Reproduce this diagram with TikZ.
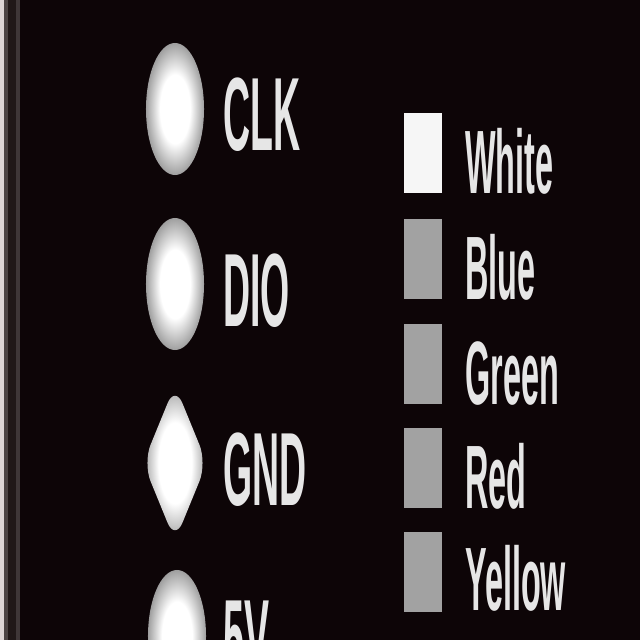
\documentclass[tikz,border=0pt]{standalone}
\usepackage{fontspec}
\usepackage{xcolor}
\usepackage{tikz}
\usetikzlibrary{shapes.geometric}
\newfontfamily\condfont[FakeStretch=0.36]{Liberation Sans}

\definecolor{boardbg}{HTML}{0D0507}
\definecolor{edgelight}{HTML}{DDD5D5}
\definecolor{edgegrey}{HTML}{4C4444}
\definecolor{edgedark}{HTML}{201818}
\definecolor{wiregrey}{HTML}{A2A2A2}
\definecolor{wirewhite}{HTML}{F6F6F6}
\definecolor{silk}{HTML}{E6E6E6}

\pgfdeclareradialshading{padglow}{\pgfpoint{0bp}{0bp}}{%
  color(0bp)=(white); color(13bp)=(white); color(25bp)=(gray!75);
  color(32bp)=(gray!40!boardbg); color(40bp)=(boardbg); color(70bp)=(boardbg)}

\tikzset{
  pad/.style={ellipse, shading=padglow, minimum width=1.45cm, minimum height=3.3cm, inner sep=0pt},
  padtext/.style={anchor=base west, text=silk, inner sep=0pt, font=\condfont\bfseries\fontsize{74}{74}\selectfont},
  wire/.style={rectangle, minimum width=0.95cm, minimum height=2cm, inner sep=0pt},
  wiretext/.style={anchor=base west, text=silk, inner sep=0pt, font=\condfont\bfseries\fontsize{64}{64}\selectfont}
}

\begin{document}
\begin{tikzpicture}[x=0.025cm,y=-0.025cm]
\useasboundingbox (0,0) rectangle (640,640);
\clip (0,0) rectangle (640,640);
\fill[boardbg] (0,0) rectangle (640,640);
% board edge
\fill[edgelight] (0,0) rectangle (4,640);
\fill[edgegrey] (4,0) rectangle (8,640);
\fill[edgedark] (8,0) rectangle (16,640);
\fill[edgegrey!80!boardbg] (16,0) rectangle (20,640);

% pads
\node[pad] (clk) at (175,109) {};
\node[pad] (dio) at (175,284) {};
\node[pad, diamond, rounded corners=14pt, minimum width=1.6cm, minimum height=3.9cm] (gnd) at (175,463) {};
\node[pad] (vcc) at (177,636) {};

\node[padtext] (clklbl) at (223,150) {CLK};
\node[padtext] (diolbl) at (223,326) {DIO};
\node[padtext] (gndlbl) at (223,505) {GND};
\node[padtext] (vcclbl) at (223,672) {5V};

% wire colours
\node[wire, fill=wirewhite] (white) at (423,153) {};
\node[wire, fill=wiregrey] (blue) at (423,259) {};
\node[wire, fill=wiregrey] (green) at (423,364) {};
\node[wire, fill=wiregrey] (red) at (423,468) {};
\node[wire, fill=wiregrey] (yellow) at (423,572) {};

\node[wiretext] (whitelbl) at (465,193) {White};
\node[wiretext] (bluelbl) at (465,299) {Blue};
\node[wiretext] (greenlbl) at (465,404) {Green};
\node[wiretext] (redlbl) at (465,508) {Red};
\node[wiretext] (yellowlbl) at (465,610) {Yellow};
\end{tikzpicture}
\end{document}
